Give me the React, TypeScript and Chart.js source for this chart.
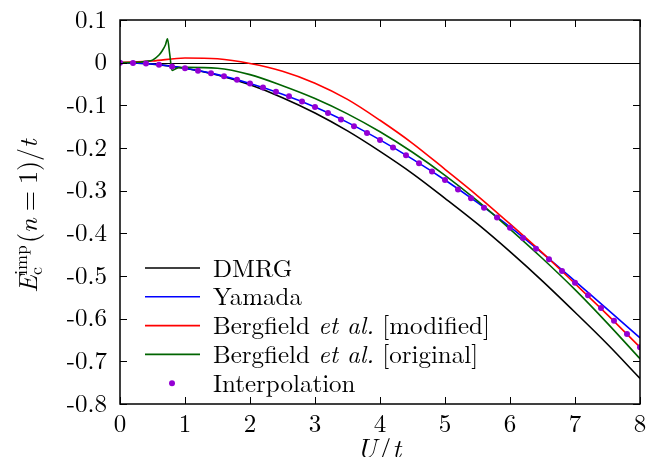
import { useEffect, useRef } from 'react';
import { Chart, registerables } from 'chart.js';
Chart.register(...registerables);

// ---------------- data ----------------
const uGrid = [0, 0.5, 1, 1.5, 2, 2.5, 3, 3.5, 4, 4.5, 5, 5.5, 6, 6.5, 7, 7.5, 8];
const eDmrg = [0, -0.0035, -0.013, -0.029, -0.052, -0.082, -0.118, -0.160, -0.208, -0.260, -0.318, -0.378, -0.443, -0.512, -0.585, -0.660, -0.740];
const eYamada = [0, -0.003, -0.013, -0.028, -0.049, -0.074, -0.104, -0.140, -0.181, -0.226, -0.275, -0.328, -0.385, -0.447, -0.512, -0.578, -0.645];
const eModified = [0, 0.004, 0.011, 0.009, -0.002, -0.020, -0.048, -0.086, -0.135, -0.189, -0.250, -0.312, -0.378, -0.446, -0.518, -0.591, -0.667];
const uOriginal = [0, 0.2, 0.3, 0.4, 0.5, 0.6, 0.65, 0.7, 0.73, 0.765, 0.8, 0.85, 0.9, 1.0, 1.5, 2.0, 2.5, 3.0, 3.5, 4.0, 4.5, 5.0, 5.5, 6.0, 6.5, 7.0, 7.5, 8.0];
const eOriginal = [0, 0.0005, 0.001, 0.003, 0.006, 0.018, 0.028, 0.042, 0.056, 0.02, -0.018, -0.015, -0.012, -0.011, -0.013, -0.028, -0.054, -0.084, -0.120, -0.162, -0.210, -0.264, -0.324, -0.390, -0.459, -0.532, -0.611, -0.694];
const uInterp = [0, 0.2, 0.4, 0.6, 0.8, 1.0, 1.2, 1.4, 1.6, 1.8, 2.0, 2.2, 2.4, 2.6, 2.8, 3.0, 3.2, 3.4, 3.6, 3.8, 4.0, 4.2, 4.4, 4.6, 4.8, 5.0, 5.2, 5.4, 5.6, 5.8, 6.0, 6.2, 6.4, 6.6, 6.8, 7.0, 7.2, 7.4, 7.6, 7.8, 8.0];
const eInterp = [0, -0.0005, -0.002, -0.005, -0.009, -0.013, -0.019, -0.025, -0.032, -0.040, -0.049, -0.058, -0.068, -0.079, -0.091, -0.104, -0.118, -0.133, -0.149, -0.165, -0.181, -0.199, -0.217, -0.236, -0.255, -0.275, -0.297, -0.318, -0.340, -0.363, -0.387, -0.411, -0.436, -0.461, -0.488, -0.516, -0.545, -0.575, -0.605, -0.636, -0.667];

const xTicks = [0, 1, 2, 3, 4, 5, 6, 7, 8];
const yTicks = [-0.8, -0.7, -0.6, -0.5, -0.4, -0.3, -0.2, -0.1, 0, 0.1];
const yTickLabels = ['-0.8', '-0.7', '-0.6', '-0.5', '-0.4', '-0.3', '-0.2', '-0.1', '0', '0.1'];

const seriesNames = ['DMRG', 'Yamada', 'Bergfield et al. [modified]', 'Bergfield et al. [original]', 'Interpolation'];
const seriesColors = ['#000000', '#0000ff', '#ff0000', '#006400', '#9400d3'];

// ---------------- drawing helpers ----------------
const FAM = '"Latin Modern Roman"';
const font = (sz: number, it = false) => `${it ? 'italic ' : ''}${sz}px ${FAM}`;

type Seg = { t: string; it?: boolean; sz: number; dy?: number; noAdv?: boolean; gap?: number };

function richWidth(ctx: CanvasRenderingContext2D, segs: Seg[]) {
  let w = 0;
  for (const s of segs) {
    if (s.noAdv) continue;
    ctx.font = font(s.sz, s.it);
    w += ctx.measureText(s.t).width + (s.gap || 0);
  }
  return w;
}
function drawRich(ctx: CanvasRenderingContext2D, segs: Seg[], x: number, y: number) {
  let cx = x;
  for (const s of segs) {
    ctx.font = font(s.sz, s.it);
    ctx.fillText(s.t, cx, y + (s.dy || 0));
    if (!s.noAdv) cx += ctx.measureText(s.t).width + (s.gap || 0);
  }
}

const TXT = 25;

const framePlugin = {
  id: 'framePlugin',
  beforeDatasetsDraw(chart: any) {
    const { ctx, chartArea: a, scales } = chart;
    const y0 = scales.y.getPixelForValue(0);
    ctx.save();
    ctx.strokeStyle = '#000';
    ctx.lineWidth = 1;
    ctx.beginPath();
    ctx.moveTo(a.left, Math.round(y0) + 0.5);
    ctx.lineTo(a.right, Math.round(y0) + 0.5);
    ctx.stroke();
    ctx.restore();
  },
  afterDraw(chart: any) {
    const { ctx, chartArea: a, scales } = chart;
    ctx.save();
    ctx.strokeStyle = '#000';
    ctx.lineWidth = 1.5;
    ctx.strokeRect(a.left, a.top, a.right - a.left, a.bottom - a.top);
    const tl = 7;
    ctx.lineWidth = 1;
    ctx.beginPath();
    for (const v of xTicks) {
      const px = Math.round(scales.x.getPixelForValue(v)) + 0.5;
      ctx.moveTo(px, a.bottom); ctx.lineTo(px, a.bottom - tl);
      ctx.moveTo(px, a.top); ctx.lineTo(px, a.top + tl);
    }
    for (const v of yTicks) {
      const py = Math.round(scales.y.getPixelForValue(v)) + 0.5;
      ctx.moveTo(a.left, py); ctx.lineTo(a.left + tl, py);
      ctx.moveTo(a.right, py); ctx.lineTo(a.right - tl, py);
    }
    ctx.stroke();

    // legend
    ctx.fillStyle = '#000';
    ctx.textBaseline = 'alphabetic';
    ctx.textAlign = 'left';
    const rowY = 260;
    const rowH = 28.8;
    seriesNames.forEach((name, i) => {
      const y = rowY + i * rowH;
      if (i < 4) {
        ctx.strokeStyle = seriesColors[i];
        ctx.lineWidth = 1.6;
        ctx.beginPath();
        ctx.moveTo(137, y);
        ctx.lineTo(192, y);
        ctx.stroke();
      } else {
        ctx.fillStyle = seriesColors[i];
        ctx.beginPath();
        ctx.arc(164, y, 3, 0, Math.PI * 2);
        ctx.fill();
        ctx.fillStyle = '#000';
      }
      const parts = name.split('et al.');
      const segs: Seg[] = parts.length === 2
        ? [{ t: parts[0], sz: TXT }, { t: 'et al.', it: true, sz: TXT }, { t: parts[1], sz: TXT }]
        : [{ t: name, sz: TXT }];
      drawRich(ctx, segs, 205, y + 8.5);
    });

    // x title
    const xs: Seg[] = [{ t: 'U', it: true, sz: 27, gap: 1 }, { t: '/', sz: 27, gap: 1 }, { t: 't', it: true, sz: 27 }];
    const xw = richWidth(ctx, xs);
    drawRich(ctx, xs, 371 - xw / 2, 450);

    // y title (rotated)
    ctx.translate(29, 208);
    ctx.rotate(-Math.PI / 2);
    const ys: Seg[] = [
      { t: 'E', it: true, sz: 26, gap: 0 },
      { t: 'c', sz: 18, dy: 5, noAdv: true },
      { t: 'imp', sz: 18, dy: -10, gap: 2 },
      { t: '(', sz: 26 },
      { t: 'n', it: true, sz: 26, gap: 7 },
      { t: '=', sz: 26, gap: 7 },
      { t: '1', sz: 26 },
      { t: ')', sz: 26 },
      { t: '/', sz: 26 },
      { t: 't', it: true, sz: 26 },
    ];
    const yw = richWidth(ctx, ys);
    drawRich(ctx, ys, -yw / 2, 0);
    ctx.restore();
  },
};

export default function App() {
  const ref = useRef<HTMLCanvasElement>(null);
  useEffect(() => {
    let chart: Chart | null = null;
    let cancelled = false;
    const build = () => {
      if (cancelled || !ref.current) return;
      const pts = (xs: number[], ys: number[]) => xs.map((x, i) => ({ x, y: ys[i] }));
      const lineDs = (i: number, data: any[], order: number) => ({
        label: seriesNames[i],
        data,
        borderColor: seriesColors[i],
        backgroundColor: seriesColors[i],
        borderWidth: 1.6,
        pointRadius: 0,
        fill: false,
        cubicInterpolationMode: 'monotone' as const,
        order,
      });
      chart = new Chart(ref.current, {
        type: 'line',
        data: {
          datasets: [
            lineDs(0, pts(uGrid, eDmrg), 5),
            lineDs(1, pts(uGrid, eYamada), 4),
            lineDs(2, pts(uGrid, eModified), 3),
            lineDs(3, pts(uOriginal, eOriginal), 2),
            {
              label: seriesNames[4],
              data: pts(uInterp, eInterp),
              showLine: false,
              pointRadius: 3,
              pointBorderWidth: 0,
              pointBackgroundColor: seriesColors[4],
              borderColor: seriesColors[4],
              backgroundColor: seriesColors[4],
              order: 1,
            } as any,
          ],
        },
        options: {
          responsive: false,
          animation: false,
          layout: { padding: { top: 12, right: 10, left: 0, bottom: 0 } },
          plugins: { legend: { display: false }, tooltip: { enabled: false } },
          scales: {
            x: {
              type: 'linear',
              min: 0,
              max: 8,
              afterBuildTicks: (s: any) => { s.ticks = xTicks.map((v) => ({ value: v })); },
              afterFit: (s: any) => { s.height = 53; s.paddingLeft = 0; s.paddingRight = 0; },
              grid: { display: false, drawTicks: false },
              border: { display: false },
              ticks: {
                color: '#000',
                font: { family: FAM, size: TXT, lineHeight: 1 },
                padding: 8,
                maxRotation: 0,
                autoSkip: false,
                callback: (v: any) => String(v),
              },
            },
            y: {
              type: 'linear',
              min: -0.8,
              max: 0.1,
              afterBuildTicks: (s: any) => { s.ticks = yTicks.map((v) => ({ value: v })); },
              afterFit: (s: any) => { s.width = 112; s.paddingTop = 0; s.paddingBottom = 0; },
              grid: { display: false, drawTicks: false },
              border: { display: false },
              ticks: {
                color: '#000',
                font: { family: FAM, size: TXT, lineHeight: 1 },
                padding: 13,
                autoSkip: false,
                callback: (v: any) => {
                  const k = yTicks.findIndex((t) => Math.abs(t - v) < 1e-9);
                  return k >= 0 ? yTickLabels[k] : '';
                },
              },
            },
          },
        },
        plugins: [framePlugin],
      });
    };
    const fonts: any = (document as any).fonts;
    if (fonts && fonts.load) {
      Promise.all([
        fonts.load('25px "Latin Modern Roman"'),
        fonts.load('italic 25px "Latin Modern Roman"'),
      ]).then(build, build);
    } else {
      build();
    }
    return () => {
      cancelled = true;
      if (chart) chart.destroy();
    };
  }, []);
  return (
    <div style={{ width: 642, height: 449 }}>
      <canvas ref={ref} width={642} height={449} style={{ display: 'block' }} />
    </div>
  );
}
